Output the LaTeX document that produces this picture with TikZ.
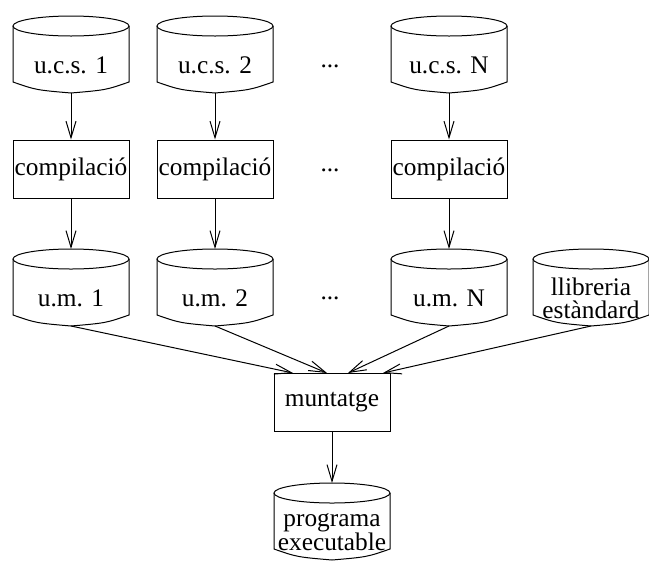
\documentclass[tikz,border=0pt]{standalone}
\usepackage{fontspec}
\setmainfont{Liberation Serif}
\usetikzlibrary{arrows.meta,calc}
\tikzset{
  txt/.style={align=center,inner sep=0pt,font=\fontsize{19}{17}\selectfont},
  boxnode/.style={draw,line width=0.75pt,minimum width=87pt,minimum height=43.5pt,inner sep=0pt,font=\fontsize{19}{17}\selectfont},
  shapeline/.style={line width=0.75pt},
  arr/.style={line width=0.75pt,-{Straight Barb[length=12.5pt,width=7.5pt,line width=0.75pt]}},
}
\newcommand\cylnode[5][]{%
  \node[txt,#1] (#2) at (#3,#4) {#5};
  \coordinate (#2-t) at (#3,#4-49);
  \coordinate (#2-b) at (#3,#4+28);
  \draw[shapeline] (#3-58,#4-39) -- (#3-58,#4+17) .. controls (#3-35,#4+25) .. (#3,#4+28)
     .. controls (#3+35,#4+25) .. (#3+58,#4+17) -- (#3+58,#4-39);
  \draw[shapeline] (#3,#4-39) ellipse [x radius=43.5pt, y radius=7.5pt];
}
\begin{document}
\begin{tikzpicture}[x=0.75pt,y=-0.75pt]
\useasboundingbox (0,0) rectangle (649,561);
\clip (0,0) rectangle (649,561);
% sources
\cylnode{u1}{71}{65}{u.c.s. 1}
\cylnode{u2}{215}{65}{u.c.s. 2}
\cylnode{u3}{449}{65}{u.c.s. N}
\node[txt] (d1) at (330,66) {...};
% compilations
\node[boxnode] (c1) at (71,169) {compilació};
\node[boxnode] (c2) at (215,169) {compilació};
\node[boxnode] (c3) at (449,169) {compilació};
\node[txt] (d2) at (330,170) {...};
% modules
\cylnode{m1}{71}{298}{u.m. 1}
\cylnode{m2}{215}{298}{u.m. 2}
\cylnode{m3}{449}{298}{u.m. N}
\cylnode{lib}{591}{298}{llibreria\\estàndard}
\node[txt] (d3) at (330,298) {...};
% link
\node[boxnode] (mu) at (332,402.5) {muntatge};
\cylnode[font=\fontsize{19}{15.5}\selectfont]{pe}{332}{532}{programa\\executable}
% arrows
\draw[arr] (u1-b) -- (c1.north);
\draw[arr] (u2-b) -- (c2.north);
\draw[arr] (u3-b) -- (c3.north);
\draw[arr] (c1.south) -- (m1-t);
\draw[arr] (c2.south) -- (m2-t);
\draw[arr] (c3.south) -- (m3-t);
\coordinate (in1) at ($(mu.north)+(-39,0)$);
\coordinate (in2) at ($(mu.north)+(-5,0)$);
\coordinate (in3) at ($(mu.north)+(16,0)$);
\coordinate (in4) at ($(mu.north)+(51,0)$);
\draw[arr] (m1-b) -- (in1);
\draw[arr] (m2-b) -- (in2);
\draw[arr] (m3-b) -- (in3);
\draw[arr] (lib-b) -- (in4);
\draw[arr] (mu.south) -- (pe-t);
\end{tikzpicture}
\end{document}
